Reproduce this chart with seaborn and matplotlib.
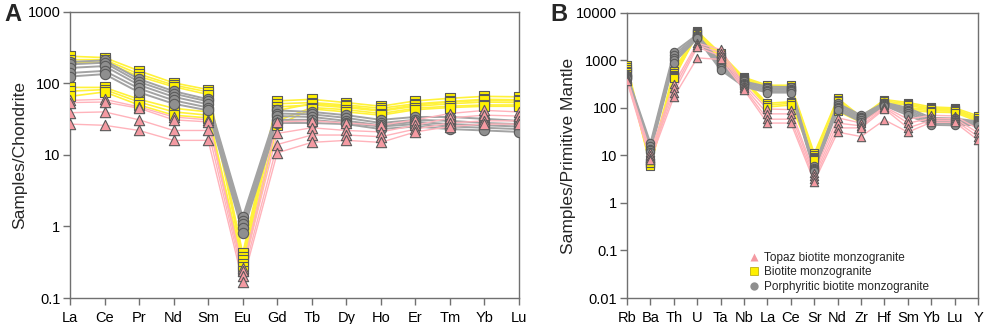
import numpy as np
import pandas as pd
import matplotlib
matplotlib.use('Agg')
import matplotlib.pyplot as plt
import seaborn as sns
from matplotlib.lines import Line2D

# ---- data ----
ree = ['La', 'Ce', 'Pr', 'Nd', 'Sm', 'Eu', 'Gd', 'Tb', 'Dy', 'Ho', 'Er', 'Tm', 'Yb', 'Lu']
spider = ['Rb', 'Ba', 'Th', 'U', 'Ta', 'Nb', 'La', 'Ce', 'Sr', 'Nd', 'Zr', 'Hf', 'Sm', 'Yb', 'Lu', 'Y']

groups = ['Topaz biotite monzogranite', 'Biotite monzogranite', 'Porphyritic biotite monzogranite']

# chondrite normalised REE
ree_biotite = [
    [240, 230, 150, 102, 82, 0.42, 57, 60, 54, 48, 57, 62, 66, 65],
    [215, 215, 135, 95, 76, 0.38, 52, 54, 50, 45, 52, 56, 60, 59],
    [195, 200, 125, 90, 70, 0.34, 47, 50, 46, 41, 48, 52, 55, 54],
    [88, 88, 60, 45, 40, 0.30, 42, 52, 48, 42, 50, 55, 58, 57],
    [78, 82, 55, 40, 36, 0.27, 30, 46, 43, 38, 45, 48, 50, 50],
    [66, 76, 50, 36, 33, 0.24, 26, 44, 40, 36, 43, 46, 48, 48],
]
ree_porph = [
    [200, 210, 115, 78, 60, 1.35, 42, 40, 36, 31, 34, 34, 32, 30],
    [185, 195, 105, 72, 56, 1.2, 38, 37, 33, 28, 31, 30, 28, 27],
    [165, 175, 95, 65, 51, 1.1, 35, 34, 30, 26, 29, 27, 26, 25],
    [140, 150, 85, 58, 46, 0.95, 31, 31, 28, 25, 27, 25, 24, 23],
    [125, 135, 75, 52, 42, 0.82, 28, 28, 27, 23, 25, 23, 22, 21],
]
ree_topaz = [
    [58, 60, 47, 34, 31, 0.26, 29, 30, 28, 26, 31, 38, 42, 40],
    [54, 55, 45, 31, 29, 0.24, 20, 24, 22, 21, 26, 33, 36, 35],
    [39, 40, 31, 22, 22, 0.20, 14, 19, 19, 18, 23, 28, 30, 30],
    [27, 26, 22, 16, 16, 0.17, 10.7, 15, 16, 15, 21, 25, 27, 27],
]

# primitive mantle normalised trace elements
sp_biotite = [
    [800, 7.5, 600, 4100, 1400, 440, 300, 300, 11, 160, 65, 150, 130, 105, 100, 68],
    [720, 7.0, 550, 3900, 1300, 420, 280, 280, 10, 150, 62, 140, 122, 98, 95, 62],
    [650, 6.5, 500, 3800, 1200, 400, 260, 265, 9.5, 140, 58, 130, 115, 92, 90, 58],
    [600, 6.5, 480, 3700, 1100, 390, 125, 135, 9, 100, 55, 125, 100, 95, 92, 60],
    [560, 6.0, 450, 3650, 1050, 380, 115, 125, 8.5, 90, 52, 120, 95, 88, 85, 55],
    [520, 7.0, 420, 3600, 1000, 370, 105, 115, 8, 85, 50, 115, 88, 82, 80, 52],
]
sp_porph = [
    [500, 18, 1500, 3500, 900, 360, 280, 275, 6.0, 125, 70, 130, 100, 62, 60, 52],
    [470, 16, 1300, 3300, 820, 340, 260, 255, 5.5, 115, 64, 125, 92, 57, 55, 50],
    [450, 14, 1150, 3100, 750, 320, 240, 240, 5.2, 105, 60, 120, 85, 52, 50, 48],
    [430, 13, 1000, 3000, 680, 300, 225, 225, 5.0, 98, 55, 115, 78, 48, 46, 46],
    [410, 12, 900, 2900, 630, 280, 210, 210, 4.7, 90, 51, 112, 70, 44, 43, 44],
]
sp_topaz = [
    [420, 12, 320, 2300, 1700, 310, 95, 92, 4.3, 62, 48, 105, 58, 70, 68, 36],
    [400, 10, 260, 2100, 1450, 280, 75, 75, 3.7, 48, 42, 100, 48, 60, 60, 30],
    [380, 9, 210, 1900, 1250, 260, 58, 58, 3.2, 38, 38, 95, 38, 55, 55, 25],
    [360, 8, 170, 1130, 1050, 240, 48, 48, 2.8, 31, 25, 56, 31, 50, 50, 21],
]

line_colors = {groups[0]: '#ffb3bb', groups[1]: '#fff23a', groups[2]: '#a3a3a3'}
line_widths = {groups[0]: 1.0, groups[1]: 1.2, groups[2]: 1.4}
fill_colors = {groups[0]: '#f49aa2', groups[1]: '#fff000', groups[2]: '#8f8f8f'}
marker_map = {groups[0]: '^', groups[1]: 's', groups[2]: 'o'}


def to_long(elements, sets):
    rows = []
    for grp, samples in sets:
        for i, vals in enumerate(samples):
            for j, v in enumerate(vals):
                rows.append({'pos': j, 'element': elements[j], 'value': v,
                             'group': grp, 'sample': grp + str(i)})
    return pd.DataFrame(rows)


df_ree = to_long(ree, [(groups[1], ree_biotite), (groups[2], ree_porph), (groups[0], ree_topaz)])
df_sp = to_long(spider, [(groups[1], sp_biotite), (groups[2], sp_porph), (groups[0], sp_topaz)])

sns.set_style('white')
plt.rcParams['font.family'] = ['Liberation Sans', 'DejaVu Sans']

fig = plt.figure(figsize=(9.89, 3.24), dpi=100)
axA = fig.add_axes([0.0708, 0.0802, 0.454, 0.883])
axB = fig.add_axes([0.634, 0.0802, 0.355, 0.880])


def draw(ax, df, elements, ms):
    for grp in [groups[1], groups[2], groups[0]]:
        sub = df[df['group'] == grp]
        sns.lineplot(data=sub, x='pos', y='value', units='sample', estimator=None,
                     color=line_colors[grp], lw=line_widths[grp], ax=ax, legend=False,
                     zorder=2, sort=False)
    for k, grp in enumerate([groups[1], groups[2], groups[0]]):
        sub = df[df['group'] == grp]
        sns.scatterplot(data=sub, x='pos', y='value', marker=marker_map[grp],
                        color=fill_colors[grp], edgecolor='#5a5a5a', linewidth=0.8,
                        s=ms, ax=ax, legend=False, zorder=3 + k)
    ax.set_yscale('log')
    ax.set_xlim(0, len(elements) - 1)
    ax.set_xticks(range(len(elements)))
    ax.set_xticklabels(elements)
    ax.set_xlabel('')
    ax.minorticks_off()
    for sp in ax.spines.values():
        sp.set_color('#707070')
        sp.set_linewidth(1.0)
    ax.tick_params(bottom=True, left=True, direction='out', length=5, width=1,
                   color='#707070', labelsize=10.5, labelcolor='black', pad=2)
    ax.tick_params(axis='x', pad=4)


draw(axA, df_ree, ree, 55)
axA.set_ylim(0.1, 1000)
axA.set_yticks([0.1, 1, 10, 100, 1000])
axA.set_yticklabels(['0.1', '1', '10', '100', '1000'])
axA.minorticks_off()
axA.set_ylabel('Samples/Chondrite', fontsize=12.5, labelpad=0)

draw(axB, df_sp, spider, 36)
axB.set_ylim(0.01, 10000)
axB.set_yticks([0.01, 0.1, 1, 10, 100, 1000, 10000])
axB.set_yticklabels(['0.01', '0.1', '1', '10', '100', '1000', '10000'])
axB.minorticks_off()
axB.set_ylabel('Samples/Primitive Mantle', fontsize=12.5, labelpad=0)

handles = [Line2D([], [], ls='none', marker=marker_map[g], markersize=6,
                  markerfacecolor=fill_colors[g],
                  markeredgecolor='none' if g != groups[1] else '#b0a000',
                  markeredgewidth=0.5) for g in groups]
axB.legend(handles, groups, loc='lower left', bbox_to_anchor=(0.33, 0.0), frameon=False,
           fontsize=8.5, handletextpad=0.3, labelspacing=0.2, borderaxespad=0.05,
           handlelength=1.0)

fig.text(0.004, 0.955, 'A', fontsize=17, fontweight='bold', va='center')
fig.text(0.556, 0.955, 'B', fontsize=17, fontweight='bold', va='center')

fig.savefig('out.png', dpi=100)
